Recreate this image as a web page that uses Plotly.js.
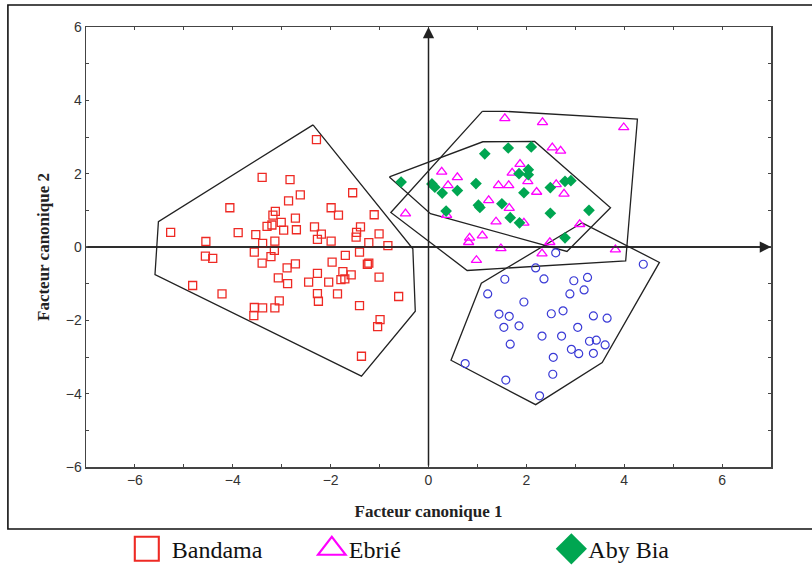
<!DOCTYPE html>
<html>
<head>
<meta charset="utf-8">
<script src="https://cdn.plot.ly/plotly-3.0.1.min.js"></script>
<style>
html,body{margin:0;padding:0;background:#fff;}
#chart{width:812px;height:565px;}
</style>
</head>
<body>
<div id="chart"></div>
<script>
// ---- Data ----
const groupNames = ["Bandama", "Ebrié", "Aby Bia"];

const bandamaX = [-2.29,-3.40,-2.83,-1.55,-2.62,-2.86,-4.06,-1.99,-1.84,-1.11,-3.13,-3.18,-2.72,-3.01,-3.20,-3.30,-2.96,-2.70,-2.33,-2.19,-2.27,-1.39,-1.47,-1.48,-1.01,-5.27,-3.89,-3.53,-4.55,-3.39,-3.14,-1.99,-1.22,-0.83,-3.56,-3.15,-4.56,-4.41,-3.22,-3.40,-1.70,-1.41,-1.97,-1.22,-1.25,-2.72,-2.89,-2.27,-1.75,-1.58,-1.71,-1.79,-1.01,-3.07,-2.88,-2.45,-2.04,-4.82,-4.22,-2.27,-1.86,-2.25,-3.05,-3.56,-3.39,-3.14,-3.57,-1.41,-0.61,-0.99,-1.04,-1.37];
const bandamaY = [2.93,1.90,1.84,1.48,1.42,1.26,1.07,1.07,0.87,0.88,0.97,0.87,0.79,0.67,0.60,0.56,0.46,0.47,0.55,0.35,0.21,0.55,0.40,0.27,0.36,0.40,0.39,0.34,0.15,0.10,0.16,0.16,0.12,0.04,-0.14,-0.09,-0.25,-0.31,-0.26,-0.44,-0.23,-0.14,-0.41,-0.44,-0.47,-0.46,-0.57,-0.72,-0.67,-0.76,-0.87,-0.89,-0.82,-0.84,-1.00,-0.96,-0.96,-1.05,-1.28,-1.27,-1.28,-1.48,-1.47,-1.65,-1.66,-1.66,-1.87,-1.60,-1.35,-1.98,-2.17,-2.98];

const ebrieX = [1.56,2.33,3.99,2.53,2.70,1.87,1.71,2.03,0.27,0.59,0.40,1.43,1.64,2.61,2.21,2.77,1.23,1.65,-0.47,0.37,1.38,1.95,0.84,1.10,0.82,1.48,0.98,2.32,2.48,3.09,3.82];
const ebrieY = [3.51,3.40,3.26,2.71,2.62,2.26,2.02,1.79,2.05,1.90,1.68,1.68,1.68,1.71,1.50,1.45,1.27,1.06,0.91,0.87,0.69,0.66,0.25,0.31,0.13,-0.04,-0.36,-0.18,0.13,0.62,-0.07];

const abyBiaX = [-0.56,0.07,0.13,0.28,0.59,0.97,1.15,1.63,2.10,1.85,2.04,2.04,1.95,1.50,1.02,1.05,0.36,1.67,1.86,2.49,2.79,2.91,2.49,3.28,2.79];
const abyBiaY = [1.77,1.72,1.63,1.47,1.54,1.73,2.54,2.70,2.73,2.00,2.11,1.97,1.48,1.18,1.14,1.08,0.98,0.80,0.66,1.62,1.79,1.81,0.92,1.00,0.25];

const group4X = [2.60,4.39,2.19,1.56,2.36,2.97,3.25,3.18,2.89,1.21,1.95,2.75,2.51,1.44,1.65,3.37,3.65,1.54,1.85,2.32,2.72,3.05,3.29,3.43,3.61,2.92,3.07,3.37,1.67,2.55,0.75,2.54,1.58,2.27];
const group4Y = [-0.16,-0.47,-0.57,-0.88,-0.87,-0.92,-0.83,-1.17,-1.28,-1.28,-1.50,-1.74,-1.82,-1.83,-1.89,-1.88,-1.94,-2.19,-2.15,-2.43,-2.43,-2.19,-2.57,-2.54,-2.67,-2.79,-2.91,-2.90,-2.65,-3.01,-3.18,-3.47,-3.63,-4.06];

// Convex envelopes (polygon vertices)
const bandamaHullX = [-2.36,-5.52,-5.59,-1.37,-0.27,-0.32];
const bandamaHullY = [3.33,0.69,-0.75,-3.52,-1.75,-0.05];
const ebrieHullX = [1.10,1.56,4.27,4.03,0.79,-0.77];
const ebrieHullY = [3.70,3.70,3.49,-0.38,-0.64,0.94];
const abyBiaHullX = [-0.80,1.11,2.17,3.72,2.83,0.04];
const abyBiaHullY = [1.91,2.87,2.88,1.07,-0.12,0.91];
const group4HullX = [3.14,4.72,3.55,2.19,0.46,1.08];
const group4HullY = [0.66,-0.42,-3.15,-4.30,-3.09,-0.99];

const axisRangeX = [-7, 7];
const axisRangeY = [-6, 6];
const xTitle = "Facteur canonique 1";
const yTitle = "Facteur canonique 2";

// ---- Styles ----
const RED = "#ee2a24", MAG = "#ff00ff", GREEN = "#00a651", BLUE = "#3a3ad6";
const close = a => a.concat([a[0]]);

function hull(xs, ys) {
  return {x: close(xs), y: close(ys), mode: "lines", type: "scatter",
    line: {color: "#222", width: 1.3}, showlegend: false, hoverinfo: "skip"};
}

const traces = [
  hull(bandamaHullX, bandamaHullY),
  hull(ebrieHullX, ebrieHullY),
  hull(abyBiaHullX, abyBiaHullY),
  hull(group4HullX, group4HullY),
  {x: bandamaX, y: bandamaY, type: "scatter", mode: "markers", showlegend: false,
   marker: {symbol: "square-open", size: 8, color: RED, line: {width: 1.3, color: RED}}},
  {x: group4X, y: group4Y, type: "scatter", mode: "markers", showlegend: false,
   marker: {symbol: "circle-open", size: 8, color: BLUE, line: {width: 1.2, color: BLUE}}},
  {x: ebrieX, y: ebrieY, type: "scatter", mode: "markers", showlegend: false,
   marker: {symbol: "triangle-up-open", size: 9, color: MAG, line: {width: 1.3, color: MAG}}},
  {x: abyBiaX, y: abyBiaY, type: "scatter", mode: "markers", showlegend: false,
   marker: {symbol: "diamond", size: 9, color: GREEN, line: {width: 0}}},
  // legend entries
  {x: [null], y: [null], type: "scatter", mode: "markers", name: groupNames[0], legend: "legend",
   marker: {symbol: "square-open", size: 16, color: RED, line: {width: 1.4, color: RED}}},
  {x: [null], y: [null], type: "scatter", mode: "markers", name: groupNames[1], legend: "legend2",
   marker: {symbol: "triangle-up-open", size: 16, color: MAG, line: {width: 1.4, color: MAG}}},
  {x: [null], y: [null], type: "scatter", mode: "markers", name: groupNames[2], legend: "legend3",
   marker: {symbol: "diamond", size: 16, color: GREEN, line: {width: 0}}}
];

const tickFont = {family: "Liberation Sans, Arial, sans-serif", size: 14, color: "#333"};
const titleFont = {family: "Liberation Serif, Times New Roman, serif", size: 17, color: "#222", weight: "bold"};
const legFont = {family: "Liberation Serif, Times New Roman, serif", size: 24, color: "#111"};

function axis(range, title, standoff) {
  return {
    range: range, tickmode: "linear", tick0: 0, dtick: 2,
    ticks: "inside", ticklen: 3, tickwidth: 1, tickcolor: "#444",
    minor: {dtick: 1, ticks: "inside", ticklen: 3, tickwidth: 1, tickcolor: "#444", showgrid: false},
    showline: true, linecolor: "#444", linewidth: 1.5, mirror: "ticks",
    showgrid: false, zeroline: true, zerolinecolor: "#555", zerolinewidth: 1.5,
    tickfont: tickFont, fixedrange: true,
    title: {text: title, font: titleFont, standoff: standoff}
  };
}

const legBase = {orientation: "h", xref: "container", yref: "container", yanchor: "middle",
  font: legFont, bgcolor: "rgba(0,0,0,0)", itemwidth: 40, borderwidth: 0};

const layout = {
  width: 812, height: 565,
  margin: {l: 86, r: 41, t: 27, b: 98},
  paper_bgcolor: "#fff", plot_bgcolor: "#fff",
  xaxis: axis(axisRangeX, xTitle, 18),
  yaxis: axis(axisRangeY, yTitle, 12),
  legend: Object.assign({}, legBase, {x: 0.150, y: 0.028}),
  legend2: Object.assign({}, legBase, {x: 0.368, y: 0.028}),
  legend3: Object.assign({}, legBase, {x: 0.663, y: 0.028}),
  annotations: [
    {xref: "x", yref: "y", axref: "x", ayref: "y", x: axisRangeX[1], y: 0, ax: axisRangeX[0], ay: 0,
     text: "", showarrow: true, arrowhead: 2, arrowsize: 1.5, arrowwidth: 1.5, arrowcolor: "#222"},
    {xref: "x", yref: "y", axref: "x", ayref: "y", x: 0, y: axisRangeY[1], ax: 0, ay: axisRangeY[0],
     text: "", showarrow: true, arrowhead: 2, arrowsize: 1.5, arrowwidth: 1.5, arrowcolor: "#222"}
  ],
  shapes: [
    {type: "rect", xref: "paper", yref: "paper", x0: -0.114, x1: 1.07, y0: -0.141, y1: 1.05,
     line: {color: "#111", width: 1.6}, layer: "above"}
  ],
  showlegend: true
};

Plotly.newPlot("chart", traces, layout, {displayModeBar: false, staticPlot: true}).then(function (gd) {
  // enlarge legend symbols (about their own centre) to match the reference key;
  // the 2nd and 3rd keys sit closer to their labels in the reference
  const nudge = {legend: 0, legend2: 8, legend3: 8};
  Object.keys(nudge).forEach(function (cls) {
    gd.querySelectorAll("g." + cls + " .legendpoints path.scatterpts").forEach(function (el) {
      const t = el.getAttribute("transform") || "";
      el.setAttribute("transform", "translate(" + nudge[cls] + ",0) " + t + " scale(1.5)");
      el.style.strokeWidth = "1.4px";
    });
  });
});
</script>
</body>
</html>
